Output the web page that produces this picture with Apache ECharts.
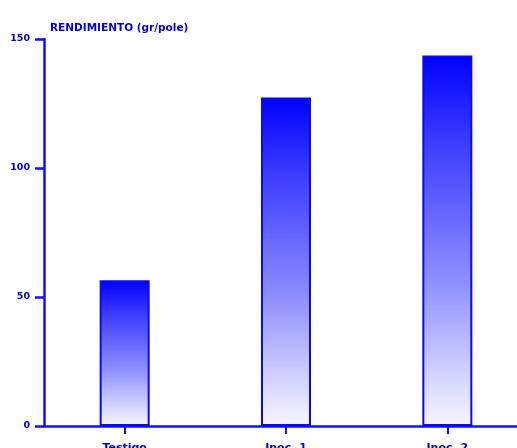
<!DOCTYPE html>
<html>
<head>
<meta charset="utf-8">
<script src="https://cdn.jsdelivr.net/npm/echarts@6/dist/echarts.min.js"></script>
<style>
  html, body { margin: 0; padding: 0; background: #fff; }
  #chart { width: 517px; height: 448px; }
</style>
</head>
<body>
<div id="chart"></div>
<script>
// Yield per treatment
const categories = ['Testigo', 'Inoc. 1', 'Inoc. 2'];
const yieldValues = [56.5, 127.3, 143.6];
const yTicks = [0, 50, 100, 150];

const blue = '#1010ff';
const textBlue = '#0000d0';

const chart = echarts.init(document.getElementById('chart'));
chart.setOption({
  animation: false,
  grid: { left: 44, right: -11, top: 39, bottom: 22, containLabel: false, outerBoundsMode: 'none' },
  title: {
    text: 'RENDIMIENTO (gr/pole)',
    left: 45, top: 18,
    textStyle: { color: textBlue, fontSize: 10.5, fontWeight: 'bold', fontFamily: 'DejaVu Sans' }
  },
  xAxis: {
    type: 'category',
    data: categories,
    axisLine: { lineStyle: { color: blue, width: 2.5 } },
    axisTick: { show: true, alignWithLabel: true, length: 8, lineStyle: { color: blue, width: 2 } },
    axisLabel: { color: textBlue, fontSize: 11, fontWeight: 'bold', margin: 17, fontFamily: 'DejaVu Sans' }
  },
  yAxis: {
    type: 'value',
    min: 0, max: 150, interval: 50,
    splitLine: { show: false },
    axisLine: { show: true, lineStyle: { color: blue, width: 2.5 } },
    axisTick: { show: true, length: 9, lineStyle: { color: blue, width: 2.5 } },
    axisLabel: {
      color: textBlue, fontSize: 9.5, fontWeight: 'bold', margin: 14, fontFamily: 'DejaVu Sans',
      formatter: v => yTicks.includes(v) ? String(v) : ''
    }
  },
  series: [{
    type: 'bar',
    data: yieldValues,
    barWidth: 50,
    itemStyle: {
      borderColor: '#0a0af0',
      borderWidth: 2,
      color: new echarts.graphic.LinearGradient(0, 0, 0, 1, [
        { offset: 0, color: '#0000ff' },
        { offset: 0.25, color: '#4040ff' },
        { offset: 0.6, color: '#8c8cff' },
        { offset: 0.85, color: '#d0d0ff' },
        { offset: 1, color: '#f8f6ff' }
      ])
    }
  }]
});
</script>
</body>
</html>
